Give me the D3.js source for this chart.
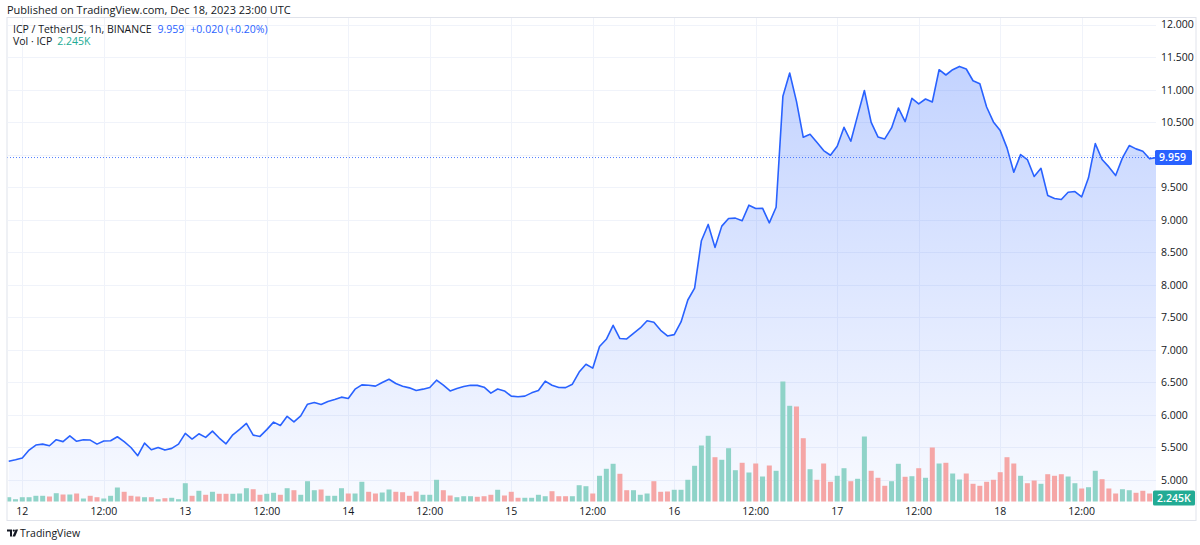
<!DOCTYPE html>
<html><head><meta charset="utf-8">
<script src="https://cdn.jsdelivr.net/npm/d3@7"></script>
<style>
body{margin:0;background:#fff;}
svg{display:block;font-family:"Open Sans","DejaVu Sans",sans-serif;}
</style></head><body>
<svg id="c" width="1200" height="545"></svg>
<script>
// ---------- DATA ----------
const firstBarTime = "2023-12-11T22:00:00Z"; // hourly bars
const closes = [
5.287,5.31,
5.337,5.46,5.537,5.552,5.527,5.62,5.59,5.68,5.595,5.62,5.614,5.552,5.6,5.603,5.665,5.59,5.50,5.373,5.568,5.465,5.50,5.46,5.486,5.552,
5.716,5.63,5.71,5.655,5.752,5.645,5.557,5.695,5.78,5.87,5.69,5.67,5.775,5.89,5.838,5.98,5.895,5.987,6.166,6.192,6.162,6.208,6.238,6.274,
6.254,6.397,6.463,6.458,6.443,6.5,6.55,6.484,6.443,6.417,6.377,6.397,6.423,6.535,6.458,6.37,6.407,6.438,6.458,6.455,6.427,6.335,6.4,6.37,
6.29,6.28,6.29,6.34,6.377,6.52,6.458,6.423,6.42,6.473,6.66,6.78,6.72,7.052,7.164,7.379,7.175,7.169,7.256,7.338,7.45,7.425,7.302,7.215,
7.236,7.43,7.768,7.952,8.68,8.93,8.577,8.904,9.022,9.027,8.986,9.226,9.175,9.18,8.955,9.195,10.9,11.258,10.823,10.27,10.316,10.193,10.066,9.994,
10.132,10.423,10.209,10.603,10.99,10.5,10.276,10.245,10.414,10.721,10.511,10.869,10.783,10.859,10.813,11.309,11.228,11.309,11.36,11.32,11.14,11.094,10.736,10.506,
10.373,10.107,9.733,10.004,9.928,9.667,9.794,9.375,9.329,9.313,9.426,9.436,9.355,9.647,10.173,9.928,9.815,9.682,9.954,10.143,10.092,10.055,9.939,9.959
];
const volumesK = [
1.20,0.64,
1.20,1.20,1.60,1.60,1.40,2.32,1.96,1.96,2.24,0.84,1.60,1.20,0.84,1.60,3.92,2.72,1.60,1.40,1.20,1.20,0.64,0.92,1.04,0.64,
5.12,1.60,3.00,1.88,2.72,2.16,2.16,2.16,2.24,3.72,3.44,1.88,2.16,2.44,1.88,3.72,3.16,1.88,5.68,3.16,3.36,1.60,1.60,3.72,
2.24,2.24,5.52,2.72,2.24,2.52,3.36,2.72,2.60,1.60,2.80,1.88,1.88,6.08,3.16,1.68,1.20,1.48,1.48,1.32,1.48,1.88,3.28,1.68,
2.72,1.04,1.04,1.04,1.88,1.48,2.88,1.48,1.48,1.48,4.56,4.28,2.24,7.20,9.16,10.56,7.76,3.16,3.16,1.88,2.24,5.68,2.72,2.80,
3.28,3.28,6.08,10.00,15.68,18.40,12.40,11.68,14.92,8.76,10.84,8.12,10.64,7.00,10.08,8.60,33.60,26.80,26.60,17.72,9.04,6.08,10.64,5.52,
7.20,9.32,5.68,6.36,18.20,8.60,6.64,4.40,5.68,10.56,6.92,7.08,9.32,6.64,15.12,10.64,10.84,7.84,6.16,7.84,4.96,4.40,5.52,6.08,
8.20,12.40,10.64,7.20,5.12,5.88,4.96,7.64,7.20,7.64,7.00,5.12,3.64,4.00,8.60,6.24,3.64,2.24,3.44,3.16,2.44,3.00,2.24,2.245
];
const volUp = [
1,1,
1,1,1,1,0,1,0,1,0,1,0,0,1,1,1,0,0,0,1,0,1,0,1,1,
1,0,1,0,1,0,0,1,1,1,0,0,1,1,0,1,0,1,1,1,0,1,1,1,
0,1,1,0,0,1,1,0,0,0,0,1,1,1,0,0,1,1,1,0,0,0,1,0,
0,0,1,1,1,1,0,0,0,1,1,1,0,1,1,1,0,0,1,1,1,0,0,0,
1,1,1,1,1,1,0,1,1,1,0,1,0,1,0,1,1,1,0,0,1,0,0,0,
1,1,0,1,1,0,0,0,1,1,0,1,0,1,0,1,0,1,1,0,0,0,0,0,
0,0,0,1,0,0,1,0,0,0,1,1,0,1,1,0,0,0,1,1,0,0,0,1
];
const priceTicks = [5,5.5,6,6.5,7,7.5,8,8.5,9,9.5,10,10.5,11,11.5,12];
const timeTickTimes = ["2023-12-12T00:00:00Z","2023-12-12T12:00:00Z","2023-12-13T00:00:00Z","2023-12-13T12:00:00Z",
  "2023-12-14T00:00:00Z","2023-12-14T12:00:00Z","2023-12-15T00:00:00Z","2023-12-15T12:00:00Z",
  "2023-12-16T00:00:00Z","2023-12-16T12:00:00Z","2023-12-17T00:00:00Z","2023-12-17T12:00:00Z",
  "2023-12-18T00:00:00Z","2023-12-18T12:00:00Z"];
const timeTickLabels = ["12","12:00","13","12:00","14","12:00","15","12:00","16","12:00","17","12:00","18","12:00"];
const lastPrice = 9.959, lastVolLabel = "2.245K";
const titleText = "Published on TradingView.com, Dec 18, 2023 23:00 UTC";
const symbolText = "ICP / TetherUS, 1h, BINANCE";
const priceText = "9.959", changeText = "+0.020 (+0.20%)";
const volText = "Vol · ICP";

// ---------- LAYOUT ----------
const svg = d3.select("#c");
const L = 7, R = 1156, T = 17.5, B = 501.5, FR = 1196, FB = 520.5;
const times = closes.map((_, i) => d3.utcHour.offset(new Date(firstBarTime), i));
const tickDates = timeTickTimes.map(s => new Date(s));

const x = d3.scaleUtc().domain([tickDates[0], tickDates[tickDates.length-1]]).range([22.3, 1081.7]);
const y = d3.scaleLinear().domain([5, 12]).range([480, 24.8]);
const yv = d3.scaleLinear().domain([0, 35]).range([B, B - 125]);

const TEXT = "#131722";
const UP = "#8fd3c8", DOWN = "#f5a6a6";
const BLUE = "#2962ff";

// title
svg.append("text").attr("x", 7).attr("y", 14).attr("font-size", 11).attr("fill", TEXT).text(titleText);

// frame
svg.append("rect").attr("x", L).attr("y", T).attr("width", FR - L).attr("height", FB - T)
  .attr("fill", "none").attr("stroke", "#e0e3eb").attr("stroke-width", 1);

const defs = svg.append("defs");
defs.append("clipPath").attr("id", "plot").append("rect")
  .attr("x", L + 0.5).attr("y", T + 0.5).attr("width", R - L - 0.5).attr("height", B - T);
const grad = defs.append("linearGradient").attr("id", "ag").attr("gradientUnits", "userSpaceOnUse")
  .attr("x1", 0).attr("x2", 0).attr("y1", y(d3.max(closes))).attr("y2", B);
grad.append("stop").attr("offset", 0).attr("stop-color", BLUE).attr("stop-opacity", 0.28);
grad.append("stop").attr("offset", 1).attr("stop-color", BLUE).attr("stop-opacity", 0.03);

const g = svg.append("g").attr("clip-path", "url(#plot)");

// grid
g.selectAll(".hg").data(priceTicks).join("line")
  .attr("x1", L).attr("x2", R).attr("y1", d => Math.round(y(d)) + 0.5).attr("y2", d => Math.round(y(d)) + 0.5)
  .attr("stroke", "#f0f3fa");
g.selectAll(".vg").data(tickDates).join("line")
  .attr("x1", d => Math.round(x(d)) + 0.5).attr("x2", d => Math.round(x(d)) + 0.5).attr("y1", T).attr("y2", B)
  .attr("stroke", "#f0f3fa");

// area
const pts = closes.map((c, i) => ({t: times[i], c}));
g.append("path").datum(pts)
  .attr("d", d3.area().x(d => x(d.t)).y0(B).y1(d => y(d.c)))
  .attr("fill", "url(#ag)");

// volume
const bw = 5;
g.selectAll(".vb").data(volumesK).join("rect")
  .attr("x", (d, i) => x(times[i]) - bw / 2).attr("width", bw)
  .attr("y", d => yv(d)).attr("height", d => B - yv(d))
  .attr("fill", (d, i) => volUp[i] ? UP : DOWN);

// line
g.append("path").datum(pts)
  .attr("d", d3.line().x(d => x(d.t)).y(d => y(d.c)))
  .attr("fill", "none").attr("stroke", BLUE).attr("stroke-width", 1.6).attr("stroke-linejoin", "round");

// last price dotted line
g.append("line").attr("x1", L).attr("x2", R).attr("y1", y(lastPrice)).attr("y2", y(lastPrice))
  .attr("stroke", BLUE).attr("stroke-width", 1).attr("stroke-dasharray", "1,2").attr("opacity", 0.8);

// price axis labels (labels hidden by the last-price box are skipped, as on the original)
const visibleTicks = priceTicks.filter(d => Math.abs(y(d) - y(lastPrice)) > 12);
svg.selectAll(".pl").data(visibleTicks).join("text")
  .attr("x", 1161).attr("y", d => y(d)).attr("dy", "0.35em")
  .attr("font-size", 10.5).attr("fill", TEXT).text(d => d3.format(".3f")(d));

// last price box
svg.append("rect").attr("x", 1155).attr("y", y(lastPrice) - 7.5).attr("width", 37).attr("height", 15)
  .attr("rx", 1.5).attr("fill", BLUE);
svg.append("text").attr("x", 1159).attr("y", y(lastPrice)).attr("dy", "0.35em")
  .attr("font-size", 10.5).attr("font-weight", 600).attr("fill", "#fff").text(d3.format(".3f")(lastPrice));

// volume box
svg.append("rect").attr("x", 1153).attr("y", yv(volumesK[volumesK.length-1]) - 3).attr("width", 42).attr("height", 15)
  .attr("rx", 1.5).attr("fill", "#22ab94");
svg.append("text").attr("x", 1157).attr("y", yv(volumesK[volumesK.length-1]) + 4.5).attr("dy", "0.35em")
  .attr("font-size", 10.5).attr("font-weight", 600).attr("fill", "#fff").text(lastVolLabel);

// time axis labels
svg.selectAll(".tl").data(tickDates).join("text")
  .attr("x", d => x(d)).attr("y", 511).attr("dy", "0.35em").attr("text-anchor", "middle")
  .attr("font-size", 10.5).attr("fill", TEXT).text((d, i) => timeTickLabels[i]);

// legend
const l1 = svg.append("text").attr("x", 13).attr("y", 29).attr("dy", "0.35em").attr("font-size", 10.5).attr("fill", TEXT);
l1.append("tspan").text(symbolText);
l1.append("tspan").attr("dx", 6).attr("fill", BLUE).text(priceText);
l1.append("tspan").attr("dx", 6).attr("fill", BLUE).text(changeText);
const l2 = svg.append("text").attr("x", 13).attr("y", 41.5).attr("dy", "0.35em").attr("font-size", 10.5).attr("fill", TEXT);
l2.append("tspan").text(volText);
l2.append("tspan").attr("dx", 5).attr("fill", "#22ab94").text(lastVolLabel);

// TradingView logo
const lg = svg.append("g").attr("fill", TEXT);
lg.append("path").attr("d", "M7,529.5 h5 v7 h-2 v-5 h-3 z");
lg.append("circle").attr("cx", 13.8).attr("cy", 530.6).attr("r", 1.1);
lg.append("path").attr("d", "M15.5,529.5 h2.6 l-3,7 h-2.6 z");
svg.append("text").attr("x", 20).attr("y", 533).attr("dy", "0.35em").attr("font-size", 10.5).attr("fill", TEXT).text("TradingView");
</script>
</body></html>
